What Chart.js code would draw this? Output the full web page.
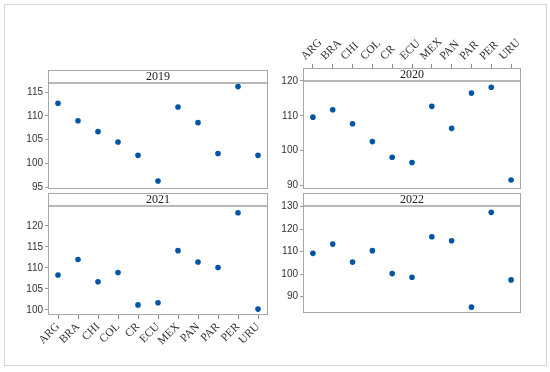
<!DOCTYPE html>
<html>
<head>
<meta charset="utf-8">
<script src="https://cdn.jsdelivr.net/npm/chart.js@4/dist/chart.umd.min.js"></script>
<style>
	body { margin: 0; background: #fff; }
	#wrap { position: relative; width: 550px; height: 372px; }
	#frame { position: absolute; left: 4px; top: 4px; width: 543px; height: 362px; box-sizing: border-box; border: 1px solid #d6d6d6; }
	canvas { position: absolute; }
</style>
</head>
<body>
<div id="wrap">
	<div id="frame"></div>
	<canvas id="c2019" width="272" height="135" style="left:4px;top:62px"></canvas>
	<canvas id="c2021" width="272" height="180" style="left:4px;top:185px"></canvas>
	<canvas id="c2020" width="285" height="176" style="left:259px;top:21px"></canvas>
	<canvas id="c2022" width="272" height="136" style="left:259px;top:185px"></canvas>
</div>
<script>
const countries = ["ARG", "BRA", "CHI", "COL", "CR", "ECU", "MEX", "PAN", "PAR", "PER", "URU"];

const v2019 = [112.7, 109.0, 106.7, 104.5, 101.7, 96.3, 111.9, 108.6, 102.1, 116.2, 101.7];
const v2020 = [109.6, 111.7, 107.7, 102.6, 98.1, 96.6, 112.7, 106.4, 116.5, 118.2, 91.6];
const v2021 = [108.3, 112.0, 106.7, 108.9, 101.2, 101.7, 114.1, 111.4, 110.1, 123.1, 100.2];
const v2022 = [109.2, 113.3, 105.3, 110.4, 100.2, 98.6, 116.6, 114.8, 85.3, 127.4, 97.4];

const ticks2019 = [95, 100, 105, 110, 115];
const ticks2020 = [90, 100, 110, 120];
const ticks2021 = [100, 105, 110, 115, 120];
const ticks2022 = [90, 100, 110, 120, 130];

// y range of each panel, strip band included at the top
const range2019 = [94.6, 119.7];
const range2020 = [89.0, 123.7];
const range2021 = [98.8, 127.8];
const range2022 = [82.7, 136.0];

const STRIP_H = 12.5;

// panel box + title strip
const stripPlugin = {
	id: "strip",
	beforeDatasetsDraw(chart, args, opts) {
		const { ctx, chartArea: a } = chart;
		ctx.save();
		ctx.strokeStyle = "#a8a8a8";
		ctx.lineWidth = 1;
		ctx.strokeRect(Math.round(a.left) + 0.5, Math.round(a.top) + 0.5, Math.round(a.width) - 1, Math.round(a.height) - 1);
		ctx.lineWidth = 1.6;
		ctx.strokeStyle = "#a0a0a0";
		const sy = Math.round(a.top + STRIP_H);
		ctx.beginPath();
		ctx.moveTo(a.left, sy);
		ctx.lineTo(a.right, sy);
		ctx.stroke();
		ctx.fillStyle = "#222";
		ctx.font = "12px 'Liberation Serif'";
		ctx.textAlign = "center";
		ctx.textBaseline = "middle";
		ctx.fillText(opts.title, (a.left + a.right) / 2, a.top + STRIP_H / 2 + 1);
		ctx.restore();
	},
};

const makePanel = (id, title, values, yTicks, yRange, xMode, padding) => {
	const ctx = document.getElementById(id).getContext("2d");

	const xAxis = {
		type: "category",
		offset: true,
		display: xMode !== "none",
		position: xMode === "top" ? "top" : "bottom",
		border: { display: false },
		grid: { drawOnChartArea: false, drawTicks: true, tickLength: 4, color: "#8a8a8a" },
		ticks: {
			autoSkip: false,
			minRotation: 45,
			maxRotation: 45,
			padding: 1,
			color: "#333",
			font: { family: "'Liberation Serif'", size: 11.5 },
		},
		afterFit: (scale) => {
			scale.height = xMode === "none" ? 0 : xMode === "top" ? 45 : 48;
		},
	};

	const config = {
		type: "line",
		data: {
			labels: countries,
			datasets: [
				{
					data: values,
					showLine: false,
					pointRadius: 2.8,
					pointBorderWidth: 0,
					pointBackgroundColor: "#0054a6",
					borderColor: "#0054a6",
				},
			],
		},
		options: {
			responsive: false,
			animation: false,
			devicePixelRatio: 1,
			layout: { padding: padding },
			plugins: {
				legend: { display: false },
				tooltip: { enabled: false },
				strip: { title: title },
			},
			scales: {
				x: xAxis,
				y: {
					min: yRange[0],
					max: yRange[1],
					border: { display: false },
					grid: { drawOnChartArea: false, drawTicks: true, tickLength: 3, color: "#9a9a9a" },
					ticks: {
						padding: 2,
						color: "#333",
						font: { family: "'Liberation Sans'", size: 10 },
					},
					afterBuildTicks: (scale) => {
						scale.ticks = yTicks.map((v) => ({ value: v }));
					},
					afterFit: (scale) => {
						scale.width = 44;
					},
				},
			},
		},
		plugins: [stripPlugin],
	};

	return new Chart(ctx, config);
};

makePanel("c2019", "2019", v2019, ticks2019, range2019, "none", { top: 6, bottom: 6, left: 0, right: 8 });
makePanel("c2021", "2021", v2021, ticks2021, range2021, "bottom", { top: 6, bottom: 2, left: 0, right: 8 });
makePanel("c2020", "2020", v2020, ticks2020, range2020, "top", { top: 2, bottom: 6, left: 0, right: 23 });
makePanel("c2022", "2022", v2022, ticks2022, range2022, "none", { top: 6, bottom: 6, left: 0, right: 10 });
</script>
</body>
</html>
